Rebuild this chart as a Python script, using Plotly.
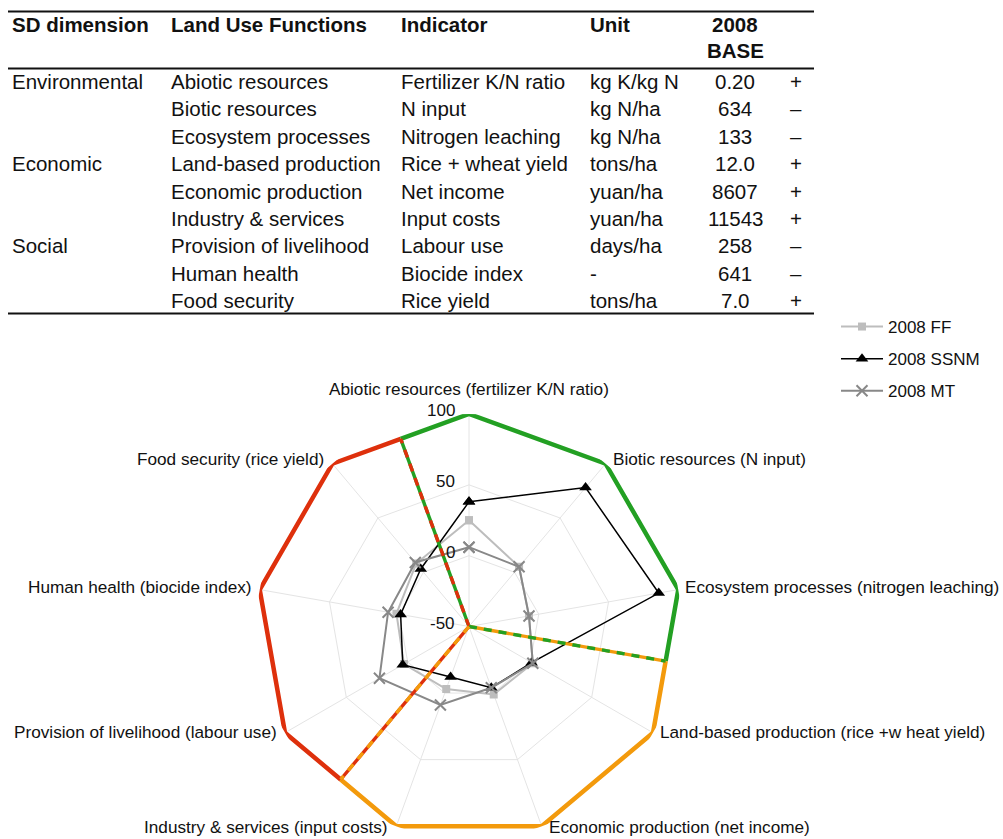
import numpy as np
import plotly.graph_objects as go

# ---------------- Indicator table ----------------
sd_dimension = ["Environmental", "", "", "Economic", "", "", "Social", "", ""]
land_use_functions = [
    "Abiotic resources", "Biotic resources", "Ecosystem processes",
    "Land-based production", "Economic production", "Industry & services",
    "Provision of livelihood", "Human health", "Food security",
]
indicators = [
    "Fertilizer K/N ratio", "N input", "Nitrogen leaching",
    "Rice + wheat yield", "Net income", "Input costs",
    "Labour use", "Biocide index", "Rice yield",
]
units = ["kg K/kg N", "kg N/ha", "kg N/ha", "tons/ha", "yuan/ha",
         "yuan/ha", "days/ha", "-", "tons/ha"]
base_2008 = ["0.20", "634", "133", "12.0", "8607", "11543", "258", "641", "7.0"]
sign = ["+", "–", "–", "+", "+", "+", "–", "–", "+"]

# ---------------- Radar chart ----------------
axis_labels = [
    "Abiotic resources (fertilizer K/N ratio)",
    "Biotic resources (N input)",
    "Ecosystem processes (nitrogen leaching)",
    "Land-based production (rice +w heat yield)",
    "Economic production (net income)",
    "Industry & services (input costs)",
    "Provision of livelihood (labour use)",
    "Human health (biocide index)",
    "Food security (rice yield)",
]
ff_2008 = [25, 5, -7, 2, 1, -3, 3, 2, 8]
ssnm_2008 = [38, 78, 86, 1, -4, -12, 4, -1, 3]
mt_2008 = [6, 5, -7, 2, -4, 9, 23, 8, 9]

radial_ticks = [-50, 0, 50, 100]
dimension_names = ["Environmental", "Economic", "Social"]
dimension_colors = ["#23a023", "#f39a0c", "#de300c"]

# ---------------- geometry helpers ----------------
W, H = 1003, 839
FONT = "Liberation Sans"
TXT = "#111111"


def fx(x):
    return x / W


def fy(y):
    return 1 - y / H


n_axes = len(axis_labels)
step = 360 / n_axes
r_min, r_max = radial_ticks[0], radial_ticks[-1]
# radius of the midpoint of a polygon edge on the outer ring
r_edge_mid = r_min + (r_max - r_min) * np.cos(np.radians(step / 2))

cx, cy, R = 469, 626.5, 212.5
domain = dict(x=[fx(cx - R), fx(cx + R)], y=[0, 2 * R / H])

fig = go.Figure()

# data series on the category (polygon-grid) polar subplot
series = [
    ("2008 FF", ff_2008, "#bdbdbd", 2, dict(symbol="square", size=8, color="#bdbdbd")),
    ("2008 SSNM", ssnm_2008, "#000000", 1.5, dict(symbol="triangle-up", size=11, color="#000000")),
    ("2008 MT", mt_2008, "#888888", 2,
     dict(symbol="x-thin", size=11, color="#888888", line=dict(color="#888888", width=2))),
]
for name, vals, col, lw, mk in series:
    fig.add_trace(go.Scatterpolar(
        r=vals + vals[:1], theta=axis_labels + axis_labels[:1],
        mode="lines+markers", name=name, legendgroup=name,
        line=dict(color=col, width=lw), marker=mk,
        subplot="polar", cliponaxis=True,
    ))

# dimension outline and dividing lines on an overlaid numeric polar subplot
bounds = [-step / 2 + i * 3 * step for i in range(4)]
for k, (dname, dcol) in enumerate(zip(dimension_names, dimension_colors)):
    a0, a1 = bounds[k], bounds[k + 1]
    thetas = [a0] + [a0 + step / 2 + j * step for j in range(3)] + [a1]
    rs = [r_edge_mid, r_max, r_max, r_max, r_edge_mid]
    fig.add_trace(go.Scatterpolar(
        r=rs, theta=thetas, mode="lines", showlegend=False, hoverinfo="skip",
        line=dict(color=dcol, width=4.5), subplot="polar2", cliponaxis=False,
    ))

for k in range(3):
    ang = bounds[k]
    col_a = dimension_colors[k]
    col_b = dimension_colors[(k - 1) % 3]
    for col, dash in ((col_a, "solid"), (col_b, "8px,7px")):
        fig.add_trace(go.Scatterpolar(
            r=[r_min, r_edge_mid], theta=[ang, ang], mode="lines",
            showlegend=False, hoverinfo="skip",
            line=dict(color=col, width=3.4, dash=dash),
            subplot="polar2", cliponaxis=False,
        ))

grid_col = "#e4e4e4"
fig.update_layout(
    width=W, height=H,
    margin=dict(l=0, r=0, t=0, b=0, pad=0),
    paper_bgcolor="white", plot_bgcolor="white",
    font=dict(family=FONT, color=TXT),
    polar=dict(
        domain=domain, bgcolor="rgba(0,0,0,0)", gridshape="linear",
        radialaxis=dict(
            range=[r_min, r_max], tickvals=radial_ticks, angle=90,
            showline=False, ticks="", showticklabels=False,
            gridcolor=grid_col, gridwidth=1,
        ),
        angularaxis=dict(
            type="category", categoryarray=axis_labels,
            direction="clockwise", rotation=90, showline=False, ticks="",
            showticklabels=False, gridcolor=grid_col, gridwidth=1,
        ),
    ),
    polar2=dict(
        domain=domain, bgcolor="rgba(0,0,0,0)",
        radialaxis=dict(range=[r_min, r_max], visible=False),
        angularaxis=dict(direction="clockwise", rotation=90, visible=False,
                         thetaunit="degrees"),
    ),
    legend=dict(
        x=fx(836), y=fy(309), xanchor="left", yanchor="top",
        bgcolor="rgba(0,0,0,0)", font=dict(size=17, family=FONT, color=TXT),
        tracegroupgap=7, itemwidth=42,
    ),
)

annotations = []


def txt(x, y, s, anchor="left", size=20.5, bold=False):
    annotations.append(dict(
        x=fx(x), y=fy(y), xref="paper", yref="paper",
        text=f"<b>{s}</b>" if bold else s,
        showarrow=False, xanchor=anchor, yanchor="middle",
        font=dict(size=size, family=FONT, color=TXT),
    ))


# radial scale values, set just left of the vertical spoke
for t in radial_ticks:
    ry = cy - R * (t - r_min) / (r_max - r_min)
    txt(cx - 12, ry - 3, str(t), anchor="right", size=17)

# category labels of the radar, set beside each outer vertex
for i, lab in enumerate(axis_labels):
    a = np.radians(90 - i * step)
    vx, vy = cx + R * np.cos(a), cy - R * np.sin(a)
    if abs(np.cos(a)) < 0.1:
        txt(vx, vy - 25, lab, anchor="center", size=17.2)
    else:
        side = "left" if np.cos(a) > 0 else "right"
        gap = 5 if np.cos(a) > 0 else -6
        txt(vx + gap, vy - 2 - 3 * np.sin(a), lab, anchor=side, size=17.2)

# ---------------- table drawn as text + rules ----------------
col_x = [10, 169, 399, 588]
headers = ["SD dimension", "Land Use Functions", "Indicator", "Unit"]
for x, h in zip(col_x, headers):
    txt(x, 25, h, bold=True)
txt(735, 25, "2008", anchor="center", bold=True)
txt(735, 51, "BASE", anchor="center", bold=True)

row_y0, row_dy = 81.5, 27.4
for i in range(len(land_use_functions)):
    y = row_y0 + i * row_dy
    if sd_dimension[i]:
        txt(col_x[0], y, sd_dimension[i])
    txt(col_x[1], y, land_use_functions[i])
    txt(col_x[2], y, indicators[i])
    txt(col_x[3], y, units[i])
    txt(735, y, base_2008[i], anchor="center")
    txt(796, y, sign[i], anchor="center")

shapes = []
for y in (11.5, 68.5, 313.5):
    shapes.append(dict(type="line", xref="paper", yref="paper",
                       x0=fx(8), x1=fx(814), y0=fy(y), y1=fy(y),
                       line=dict(color=TXT, width=2)))

fig.update_layout(annotations=annotations, shapes=shapes)

fig.write_html("out.html")
